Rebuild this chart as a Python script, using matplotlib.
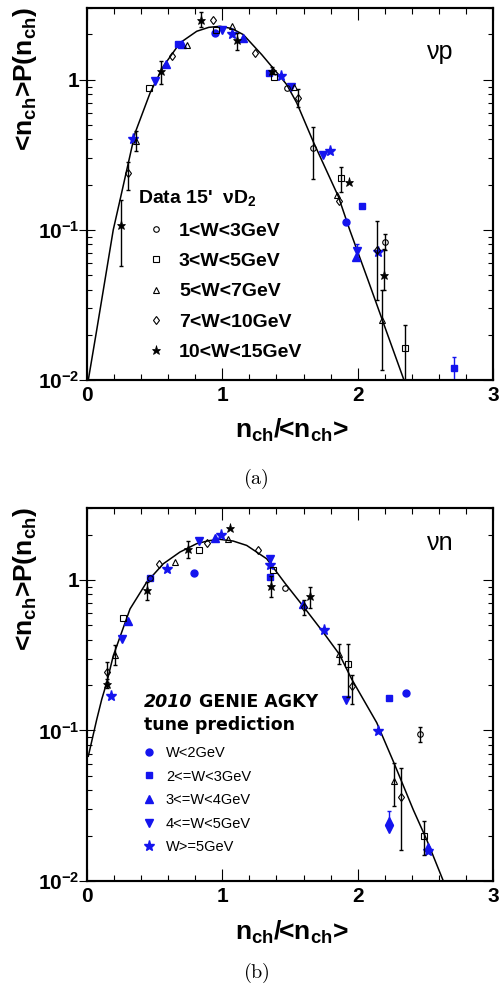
import numpy as np
import matplotlib
matplotlib.use("Agg")
import matplotlib.pyplot as plt
from matplotlib.ticker import NullFormatter, FixedLocator, LogLocator

plt.rcParams['font.family'] = ['Liberation Sans', 'DejaVu Sans']
plt.rcParams['mathtext.fontset'] = 'custom'
for k in ['rm', 'it', 'bf', 'sf']:
    plt.rcParams['mathtext.' + k] = 'Liberation Sans:bold'

BLUE = '#1414ee'

# ---------------- top panel (a): nu p ----------------
top_fit_x = [0.0096, 0.0717, 0.133, 0.194, 0.244, 0.355, 0.466, 0.564, 0.687, 0.811, 0.90, 0.983,
             1.07, 1.155, 1.291, 1.426, 1.476, 1.55, 1.672, 1.857, 1.941, 2.076, 2.209, 2.342]
top_fit_y = [0.0100, 0.0215, 0.0464, 0.100, 0.158, 0.441, 0.815, 1.227, 1.757, 2.10, 2.23, 2.266,
             2.19, 1.995, 1.468, 1.052, 0.926, 0.70, 0.386, 0.167, 0.100, 0.0464, 0.0215, 0.0100]

# data 15' nu D2 (black), lo/hi = error bar bounds (None = no bar)
a_circ_x = [1.475, 1.672, 2.202]
a_circ_y = [0.88, 0.35, 0.0834]
a_circ_lo = [None, 0.219, 0.073]
a_circ_hi = [None, 0.484, 0.094]

a_sq_x = [0.461, 0.951, 1.382, 1.877, 2.352]
a_sq_y = [0.88, 2.15, 1.04, 0.221, 0.0164]
a_sq_lo = [None, None, None, 0.179, 0.0095]
a_sq_hi = [None, None, None, 0.263, 0.0231]

a_tri_x = [0.362, 0.741, 1.074, 1.532, 1.85, 2.18]
a_tri_y = [0.392, 1.71, 2.29, 0.89, 0.17, 0.025]
a_tri_lo = [0.333, None, None, None, None, 0.0116]
a_tri_hi = [0.452, None, None, None, None, 0.040]

a_dia_x = [0.305, 0.626, 0.933, 1.24, 1.562, 1.865, 2.14]
a_dia_y = [0.239, 1.43, 2.49, 1.51, 0.755, 0.155, 0.073]
a_dia_lo = [0.185, None, None, None, 0.66, None, 0.034]
a_dia_hi = [0.285, None, None, None, 0.86, None, 0.114]

a_star_x = [0.251, 0.547, 0.84, 1.106, 1.365, 1.936, 2.195]
a_star_y = [0.108, 1.14, 2.51, 1.83, 1.15, 0.207, 0.0497]
a_star_lo = [0.0576, 0.94, 2.25, 1.58, 1.09, None, 0.040]
a_star_hi = [0.158, 1.34, 2.81, 2.06, 1.22, None, 0.075]

# GENIE (blue)
a_bcirc_x = [0.946, 1.914]
a_bcirc_y = [2.03, 0.113]
a_bsq_x = [0.675, 1.345, 2.034, 2.714]
a_bsq_y = [1.73, 1.10, 0.143, 0.0121]
a_bsq_lo = [None, None, None, 0.0100]
a_bsq_hi = [None, None, None, 0.0143]
a_butri_x = [0.584, 0.70, 1.15, 1.99]
a_butri_y = [1.28, 1.73, 1.90, 0.066]
a_bdtri_x = [0.502, 0.995, 1.505, 1.746, 1.993]
a_bdtri_y = [0.975, 2.15, 0.89, 0.313, 0.0725]
a_bdtri_lo = [None, None, None, None, 0.064]
a_bdtri_hi = [None, None, None, None, 0.080]
a_bstar_x = [0.337, 1.069, 1.434, 1.796, 2.148]
a_bstar_y = [0.402, 2.02, 1.06, 0.333, 0.0715]

# ---------------- bottom panel (b): nu n ----------------
bot_fit_x = [0.0096, 0.0717, 0.109, 0.146, 0.194, 0.318, 0.441, 0.564, 0.687, 0.811, 0.90, 0.983,
             1.08, 1.18, 1.328, 1.463, 1.603, 1.746, 1.864, 1.956, 2.141, 2.263, 2.411, 2.51, 2.633]
bot_fit_y = [0.0674, 0.118, 0.161, 0.208, 0.313, 0.641, 0.965, 1.279, 1.53, 1.74, 1.82, 1.857,
             1.81, 1.693, 1.38, 0.95, 0.658, 0.448, 0.321, 0.219, 0.1125, 0.0624, 0.0297, 0.0188, 0.0100]

b_circ_x = [0.466, 1.463, 2.463]
b_circ_y = [1.03, 0.88, 0.094]
b_circ_lo = [None, None, 0.084]
b_circ_hi = [None, None, 0.105]

b_sq_x = [0.264, 0.828, 1.377, 1.929, 2.488]
b_sq_y = [0.555, 1.58, 1.17, 0.275, 0.0199]
b_sq_lo = [None, None, None, 0.166, 0.0148]
b_sq_hi = [None, None, None, 0.374, 0.0249]

b_tri_x = [0.205, 0.65, 1.04, 1.865, 2.271]
b_tri_y = [0.316, 1.31, 1.88, 0.321, 0.0464]
b_tri_lo = [0.27, None, None, 0.276, 0.0316]
b_tri_hi = [0.37, None, None, 0.374, 0.0611]

b_dia_x = [0.15, 0.532, 0.889, 1.266, 1.603, 1.96, 2.318]
b_dia_y = [0.245, 1.27, 1.76, 1.57, 0.658, 0.197, 0.036]
b_dia_lo = [0.209, None, None, None, 0.58, 0.149, 0.016]
b_dia_hi = [0.284, None, None, None, 0.74, 0.235, 0.056]

b_star_x = [0.15, 0.441, 0.749, 1.057, 1.36, 1.648]
b_star_y = [0.203, 0.862, 1.61, 2.21, 0.908, 0.778]
b_star_lo = [0.19, 0.74, 1.40, None, 0.77, 0.65]
b_star_hi = [0.22, 0.974, 1.80, None, 1.06, 0.90]

b_bcirc_x = [0.788, 2.357]
b_bcirc_y = [1.11, 0.178]
b_bsq_x = [0.466, 1.352, 2.234]
b_bsq_y = [1.03, 1.05, 0.165]
b_butri_x = [0.305, 0.946, 1.594, 2.234, 2.518]
b_butri_y = [0.53, 1.90, 0.69, 0.025, 0.0168]
b_butri_lo = [None, None, None, 0.022, None]
b_butri_hi = [None, None, None, 0.029, None]
b_bdtri_x = [0.261, 0.828, 1.352, 1.914, 2.234]
b_bdtri_y = [0.404, 1.80, 1.38, 0.159, 0.022]
b_bstar_x = [0.18, 0.589, 0.988, 1.352, 1.754, 2.153, 2.518]
b_bstar_y = [0.168, 1.18, 2.0, 1.26, 0.466, 0.099, 0.0158]

x_ticks = [0, 1, 2, 3]
x_tick_labels = ['0', '1', '2', '3']
x_minor = [0.2, 0.4, 0.6, 0.8, 1.2, 1.4, 1.6, 1.8, 2.2, 2.4, 2.6, 2.8]
y_ticks = [0.01, 0.1, 1]
y_tick_labels = ['10$^{-2}$', '10$^{-1}$', '1']

top_legend = ['1<W<3GeV', '3<W<5GeV', '5<W<7GeV', '7<W<10GeV', '10<W<15GeV']
bot_legend = ['W<2GeV', '2<=W<3GeV', '3<=W<4GeV', '4<=W<5GeV', 'W>=5GeV']


def draw(ax, x, y, marker, color, ms, mfc, lo=None, hi=None, label=None, z=3, mew=1.0):
    x = np.asarray(x, float)
    y = np.asarray(y, float)
    if lo is not None:
        idx = [i for i in range(len(x)) if lo[i] is not None]
        if idx:
            l = np.array([lo[i] for i in idx])
            h = np.array([hi[i] for i in idx])
            ax.errorbar(x[idx], y[idx], yerr=[y[idx] - l, h - y[idx]], fmt='none',
                        ecolor=color, elinewidth=1.0, capsize=1.6, capthick=1.0, zorder=z)
    ln, = ax.plot(x, y, ls='none', marker=marker, color=color, ms=ms, mfc=mfc,
                  mec=color, mew=mew, label=label, zorder=z + 0.5)
    return ln


fig = plt.figure(figsize=(5.04, 9.92), dpi=100)
W, H = 504.0, 992.0
ax_top = fig.add_axes([87 / W, 1 - 380 / H, 406 / W, 372 / H])
ax_bot = fig.add_axes([87 / W, 1 - 881 / H, 406 / W, 373 / H])

for ax in (ax_top, ax_bot):
    ax.set_yscale('log')
    ax.set_xlim(0, 3)
    ax.set_ylim(0.01, 3.0)
    ax.set_xticks(x_ticks)
    ax.set_xticklabels(x_tick_labels)
    ax.xaxis.set_minor_locator(FixedLocator(x_minor))
    ax.set_yticks(y_ticks)
    ax.set_yticklabels(y_tick_labels)
    ax.yaxis.set_minor_locator(LogLocator(base=10, subs=np.arange(2, 10)))
    ax.yaxis.set_minor_formatter(NullFormatter())
    for lab in ax.get_xticklabels() + ax.get_yticklabels():
        lab.set_fontweight('bold')
        lab.set_fontsize(15)
    ax.tick_params(axis='x', which='major', direction='in', top=True, bottom=True,
                   length=8.5, width=0.8, pad=4)
    ax.tick_params(axis='x', which='minor', direction='in', top=True, bottom=True,
                   length=4.3, width=0.8)
    ax.tick_params(axis='y', which='major', direction='inout', left=True, right=False,
                   length=11.5, width=0.8, pad=-0.5)
    ax.tick_params(axis='y', which='minor', direction='in', left=True, right=False,
                   length=3.6, width=0.8)
    for s in ax.spines.values():
        s.set_linewidth(1.5)
    axr = ax.twinx()
    axr.set_yscale('log')
    axr.set_ylim(0.01, 3.0)
    axr.set_yticks(y_ticks)
    axr.yaxis.set_minor_locator(LogLocator(base=10, subs=np.arange(2, 10)))
    axr.yaxis.set_minor_formatter(NullFormatter())
    axr.tick_params(axis='y', which='major', direction='in', right=True, labelright=False,
                    length=7.2, width=0.8)
    axr.tick_params(axis='y', which='minor', direction='in', right=True, labelright=False,
                    length=3.6, width=0.8)
    for s in axr.spines.values():
        s.set_linewidth(1.5)
    ax.text(-0.153, 1.003, '<n$_{ch}$>P(n$_{ch}$)', transform=ax.transAxes, rotation=90,
            ha='center', va='top', fontsize=19, fontweight='bold')
    ax.set_xlabel('n$_{ch}$/<n$_{ch}$>', fontsize=19, fontweight='bold')
    ax.xaxis.set_label_coords(0.505, -0.1)

# ---- top panel drawing ----
ax = ax_top
ax.plot(top_fit_x, top_fit_y, color='black', lw=1.1, zorder=2)
draw(ax, a_bcirc_x, a_bcirc_y, 'o', BLUE, 5, BLUE)
draw(ax, a_bsq_x, a_bsq_y, 's', BLUE, 5, BLUE, a_bsq_lo, a_bsq_hi)
draw(ax, a_butri_x, a_butri_y, '^', BLUE, 5.5, BLUE)
draw(ax, a_bdtri_x, a_bdtri_y, 'v', BLUE, 5.5, BLUE, a_bdtri_lo, a_bdtri_hi)
draw(ax, a_bstar_x, a_bstar_y, '*', BLUE, 8, BLUE)
h1 = draw(ax, a_circ_x, a_circ_y, 'o', 'black', 4, 'none', a_circ_lo, a_circ_hi, top_legend[0], z=4, mew=0.8)
h2 = draw(ax, a_sq_x, a_sq_y, 's', 'black', 4, 'none', a_sq_lo, a_sq_hi, top_legend[1], z=4, mew=0.8)
h3 = draw(ax, a_tri_x, a_tri_y, '^', 'black', 4.5, 'none', a_tri_lo, a_tri_hi, top_legend[2], z=4, mew=0.8)
h4 = draw(ax, a_dia_x, a_dia_y, 'd', 'black', 4.5, 'none', a_dia_lo, a_dia_hi, top_legend[3], z=4, mew=0.8)
h5 = draw(ax, a_star_x, a_star_y, '*', 'black', 6.5, 'black', a_star_lo, a_star_hi, top_legend[4], z=4, mew=0.5)
ax.text(0.1256, 0.489, "Data 15'  \u03bdD$_2$", transform=ax.transAxes, ha='left', va='center',
        fontsize=14, fontweight='bold')
ax.legend(handles=[h1, h2, h3, h4, h5], loc='upper left', bbox_to_anchor=(0.145, 0.425),
          frameon=False, borderpad=0, borderaxespad=0, handlelength=1.0, handletextpad=0.7,
          labelspacing=0.66, prop={'family': 'Liberation Sans', 'weight': 'bold', 'size': 14})
ax.text(0.87, 0.882, '\u03bdp', transform=ax.transAxes, ha='center', va='center', fontsize=18)

# ---- bottom panel drawing ----
ax = ax_bot
ax.plot(bot_fit_x, bot_fit_y, color='black', lw=1.1, zorder=2)
g1 = draw(ax, b_bcirc_x, b_bcirc_y, 'o', BLUE, 5, BLUE, label=bot_legend[0])
g2 = draw(ax, b_bsq_x, b_bsq_y, 's', BLUE, 5, BLUE, label=bot_legend[1])
g3 = draw(ax, b_butri_x, b_butri_y, '^', BLUE, 5.5, BLUE, b_butri_lo, b_butri_hi, label=bot_legend[2])
g4 = draw(ax, b_bdtri_x, b_bdtri_y, 'v', BLUE, 5.5, BLUE, label=bot_legend[3])
g5 = draw(ax, b_bstar_x, b_bstar_y, '*', BLUE, 8, BLUE, label=bot_legend[4])
draw(ax, b_circ_x, b_circ_y, 'o', 'black', 4, 'none', b_circ_lo, b_circ_hi, z=4, mew=0.8)
draw(ax, b_sq_x, b_sq_y, 's', 'black', 4, 'none', b_sq_lo, b_sq_hi, z=4, mew=0.8)
draw(ax, b_tri_x, b_tri_y, '^', 'black', 4.5, 'none', b_tri_lo, b_tri_hi, z=4, mew=0.8)
draw(ax, b_dia_x, b_dia_y, 'd', 'black', 4.5, 'none', b_dia_lo, b_dia_hi, z=4, mew=0.8)
draw(ax, b_star_x, b_star_y, '*', 'black', 6.5, 'black', b_star_lo, b_star_hi, z=4, mew=0.5)
t1 = ax.text(0.1404, 0.48, '2010', transform=ax.transAxes, ha='left', va='center',
             fontsize=12.5, fontweight='bold', fontstyle='italic', family='DejaVu Sans')
ax.annotate(' GENIE AGKY', xy=(1, 0.5), xycoords=t1, ha='left', va='center',
            fontsize=12.5, fontweight='bold', family='DejaVu Sans')
ax.text(0.1404, 0.418, 'tune prediction', transform=ax.transAxes, ha='left', va='center',
        fontsize=12.5, fontweight='bold', family='DejaVu Sans')
ax.legend(handles=[g1, g2, g3, g4, g5], loc='upper left', bbox_to_anchor=(0.1355, 0.362),
          frameon=False, borderpad=0, borderaxespad=0, handlelength=0.96, handletextpad=0.68,
          labelspacing=0.66, prop={'family': 'Liberation Sans', 'size': 10.5})
ax.text(0.87, 0.906, '\u03bdn', transform=ax.transAxes, ha='center', va='center', fontsize=18)

fig.text(256 / W, 1 - 479 / H, r'$\mathrm{(a)}$', ha='center', va='center', fontsize=14.5,
         math_fontfamily='cm')
fig.text(256 / W, 1 - 973 / H, r'$\mathrm{(b)}$', ha='center', va='center', fontsize=14.5,
         math_fontfamily='cm')

fig.savefig('out.png', dpi=100)
